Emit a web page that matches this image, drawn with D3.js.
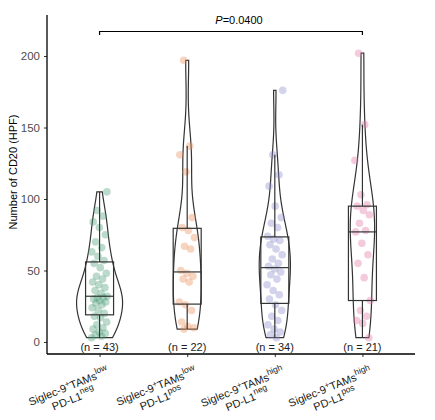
<!DOCTYPE html>
<html>
<head>
<meta charset="utf-8">
<script src="https://cdn.jsdelivr.net/npm/d3@7"></script>
<style>
  body { margin: 0; background: #fff; }
  text { font-family: "Liberation Sans", Arial, sans-serif; }
</style>
</head>
<body>
<div id="chart"></div>
<script>
// group values (CD20 per HPF)
const groups = ['g1', 'g2', 'g3', 'g4']
const labelMain = ['low', 'low', 'high', 'high']
const labelSub = ['neg', 'pos', 'neg', 'pos']
const counts = ['(n = 43)', '(n = 22)', '(n = 34)', '(n = 21)']

const lowNeg = [3, 4, 5, 6, 7, 9, 10, 12, 14, 17, 18, 20, 22, 24, 26, 27, 28, 29, 30, 31, 31, 32,
  34, 36, 38, 40, 42, 44, 46, 48, 52, 55, 57, 60, 63, 66, 70, 75, 80, 84, 88, 92, 105]
const lowPos = [9, 10, 11, 14, 22, 26, 28, 42, 44, 46, 48, 50, 65, 67, 73, 78, 80, 87, 119, 131, 137, 197]
const highNeg = [3, 5, 7, 9, 12, 15, 18, 22, 26, 30, 33, 36, 40, 44, 47, 49, 51, 53, 55, 58, 61, 65,
  68, 71, 72, 74, 80, 83, 87, 95, 109, 117, 131, 176]
const highPos = [3, 13, 15, 18, 22, 29, 45, 55, 61, 69, 77, 78, 83, 89, 92, 95, 96, 103, 127, 152, 202]

const series = [lowNeg, lowPos, highNeg, highPos]
const colors = ['#4f9e7a', '#e98f5a', '#8c8ccd', '#e277a6']
const yTicks = [0, 50, 100, 150, 200]
const pText = '0.0400'

const W = 435, H = 420
const svg = d3.select('#chart').append('svg').attr('width', W).attr('height', H)

const x = d3.scalePoint().domain(groups).range([47, 415]).padding(0.6)
const y = d3.scaleLinear().domain([-8.4, 228.7]).range([354, 15])

// kde helpers (gaussian, bw like R nrd0)
function bwNrd0(v) {
  const sd = d3.deviation(v)
  const iqr = d3.quantile(v, 0.75) - d3.quantile(v, 0.25)
  return 0.9 * Math.min(sd, iqr / 1.34) * Math.pow(v.length, -0.2)
}
function kde(v) {
  const bw = bwNrd0(v)
  const lo = d3.min(v), hi = d3.max(v)
  const pts = d3.range(0, 257).map(i => lo + (hi - lo) * i / 256)
  return pts.map(t => [t, d3.mean(v, d => Math.exp(-0.5 * ((t - d) / bw) ** 2) / (bw * Math.sqrt(2 * Math.PI)))])
}

const dens = series.map(v => kde(v))
const maxD = d3.max(dens, d => d3.max(d, e => e[1]))
const halfW = d3.scaleLinear().domain([0, maxD]).range([0, 23])

// violins
dens.forEach((d, i) => {
  const cx = x(groups[i])
  const right = d.map(e => [cx + halfW(e[1]), y(e[0])])
  const left = d.slice().reverse().map(e => [cx - halfW(e[1]), y(e[0])])
  svg.append('path')
    .attr('d', d3.line()(right.concat(left)) + 'Z')
    .attr('fill', 'none')
    .attr('stroke', '#333')
    .attr('stroke-width', 1.2)
})

// jittered points
series.forEach((v, i) => {
  const cx = x(groups[i])
  svg.append('g').selectAll('circle')
    .data(v)
    .join('circle')
    .attr('cx', (d, j) => cx + (((j * 0.618034 + i * 0.3) % 1) - 0.5) * 16)
    .attr('cy', d => y(d))
    .attr('r', 3.8)
    .attr('fill', colors[i])
    .attr('fill-opacity', 0.38)
})

// boxplots (1.5 IQR whiskers)
series.forEach((v, i) => {
  const s = v.slice().sort(d3.ascending)
  const q1 = d3.quantile(s, 0.25), med = d3.quantile(s, 0.5), q3 = d3.quantile(s, 0.75)
  const iqr = q3 - q1
  const wHi = d3.max(s.filter(d => d <= q3 + 1.5 * iqr))
  const wLo = d3.min(s.filter(d => d >= q1 - 1.5 * iqr))
  const cx = x(groups[i])
  const g = svg.append('g').attr('stroke', '#333').attr('stroke-width', 1.2).attr('fill', 'none')
  g.append('line').attr('x1', cx).attr('x2', cx).attr('y1', y(q3)).attr('y2', y(wHi))
  g.append('line').attr('x1', cx).attr('x2', cx).attr('y1', y(q1)).attr('y2', y(wLo))
  g.append('rect').attr('x', cx - 14).attr('width', 28).attr('y', y(q3)).attr('height', y(q1) - y(q3))
  g.append('line').attr('x1', cx - 14).attr('x2', cx + 14).attr('y1', y(med)).attr('y2', y(med))
})

// n labels
svg.append('g').selectAll('text')
  .data(counts)
  .join('text')
  .attr('x', (d, i) => x(groups[i]))
  .attr('y', 351)
  .attr('text-anchor', 'middle')
  .attr('font-size', 11)
  .attr('fill', '#222')
  .text(d => d)

// axes
const yAxis = svg.append('g').attr('transform', 'translate(47,0)')
  .call(d3.axisLeft(y).tickValues(yTicks).tickSize(3).tickPadding(4))
yAxis.select('.domain').remove()
yAxis.selectAll('line').attr('stroke', '#333')
yAxis.selectAll('text').attr('font-size', 11.5).attr('fill', '#4d4d4d').style('font-family', '"Liberation Sans", Arial, sans-serif')
svg.append('line').attr('x1', 47).attr('x2', 47).attr('y1', 15).attr('y2', 354).attr('stroke', '#000').attr('stroke-width', 1.3)

const xAxis = svg.append('g').attr('transform', 'translate(0,354)')
  .call(d3.axisBottom(x).tickSize(3).tickFormat(''))
xAxis.select('.domain').remove()
xAxis.selectAll('line').attr('stroke', '#333')
svg.append('line').attr('x1', 47).attr('x2', 415).attr('y1', 354).attr('y2', 354).attr('stroke', '#000').attr('stroke-width', 1.3)

// x tick labels: each piece is its own text with a plain translate+rotate
const ANG = -22
const rad = ANG * Math.PI / 180
function measure(str, size) {
  const t = svg.append('text').attr('font-size', size).text(str)
  const w = t.node().getComputedTextLength()
  t.remove()
  return w
}
function placeLine(pieces, cx, cy, startX, baseY) {
  let off = startX
  pieces.forEach(p => {
    const lx = off, ly = baseY + p.dy
    const px = cx + lx * Math.cos(rad) - ly * Math.sin(rad)
    const py = cy + lx * Math.sin(rad) + ly * Math.cos(rad)
    svg.append('text')
      .attr('transform', 'translate(' + px.toFixed(2) + ',' + py.toFixed(2) + ') rotate(' + ANG + ')')
      .attr('font-size', p.size)
      .attr('fill', '#1a1a1a')
      .text(p.t)
    off += p.w
  })
}
groups.forEach((g, i) => {
  const line1 = [
    { t: 'Siglec-9', size: 11, dy: 0 },
    { t: '+', size: 8, dy: -4 },
    { t: 'TAMs', size: 11, dy: 0 },
    { t: labelMain[i], size: 8.5, dy: -5 }
  ]
  const line2 = [
    { t: 'PD-L1', size: 11, dy: 0 },
    { t: labelSub[i], size: 8.5, dy: -5 }
  ]
  line1.concat(line2).forEach(p => { p.w = measure(p.t, p.size) })
  const w1 = d3.sum(line1, p => p.w), w2 = d3.sum(line2, p => p.w)
  const wMax = Math.max(w1, w2)
  const cx = x(g) + 5, cy = 362
  placeLine(line1, cx, cy, -wMax / 2 - w1 / 2, 13)
  placeLine(line2, cx, cy, -wMax / 2 - w2 / 2, 26)
})

// y title
svg.append('text')
  .attr('transform', 'translate(17,172) rotate(-90)')
  .attr('text-anchor', 'middle')
  .attr('font-size', 11)
  .attr('fill', '#000')
  .text('Number of CD20 (HPF)')

// significance bracket
const bx1 = x(groups[0]), bx2 = x(groups[3])
svg.append('path')
  .attr('d', `M${bx1},35V31.5H${bx2}V35`)
  .attr('fill', 'none').attr('stroke', '#000').attr('stroke-width', 1.2)
const pt = svg.append('text').attr('x', (bx1 + bx2) / 2 + 8).attr('y', 24).attr('text-anchor', 'middle').attr('font-size', 11)
pt.append('tspan').text('P').attr('font-style', 'italic')
pt.append('tspan').text('=' + pText)
</script>
</body>
</html>
